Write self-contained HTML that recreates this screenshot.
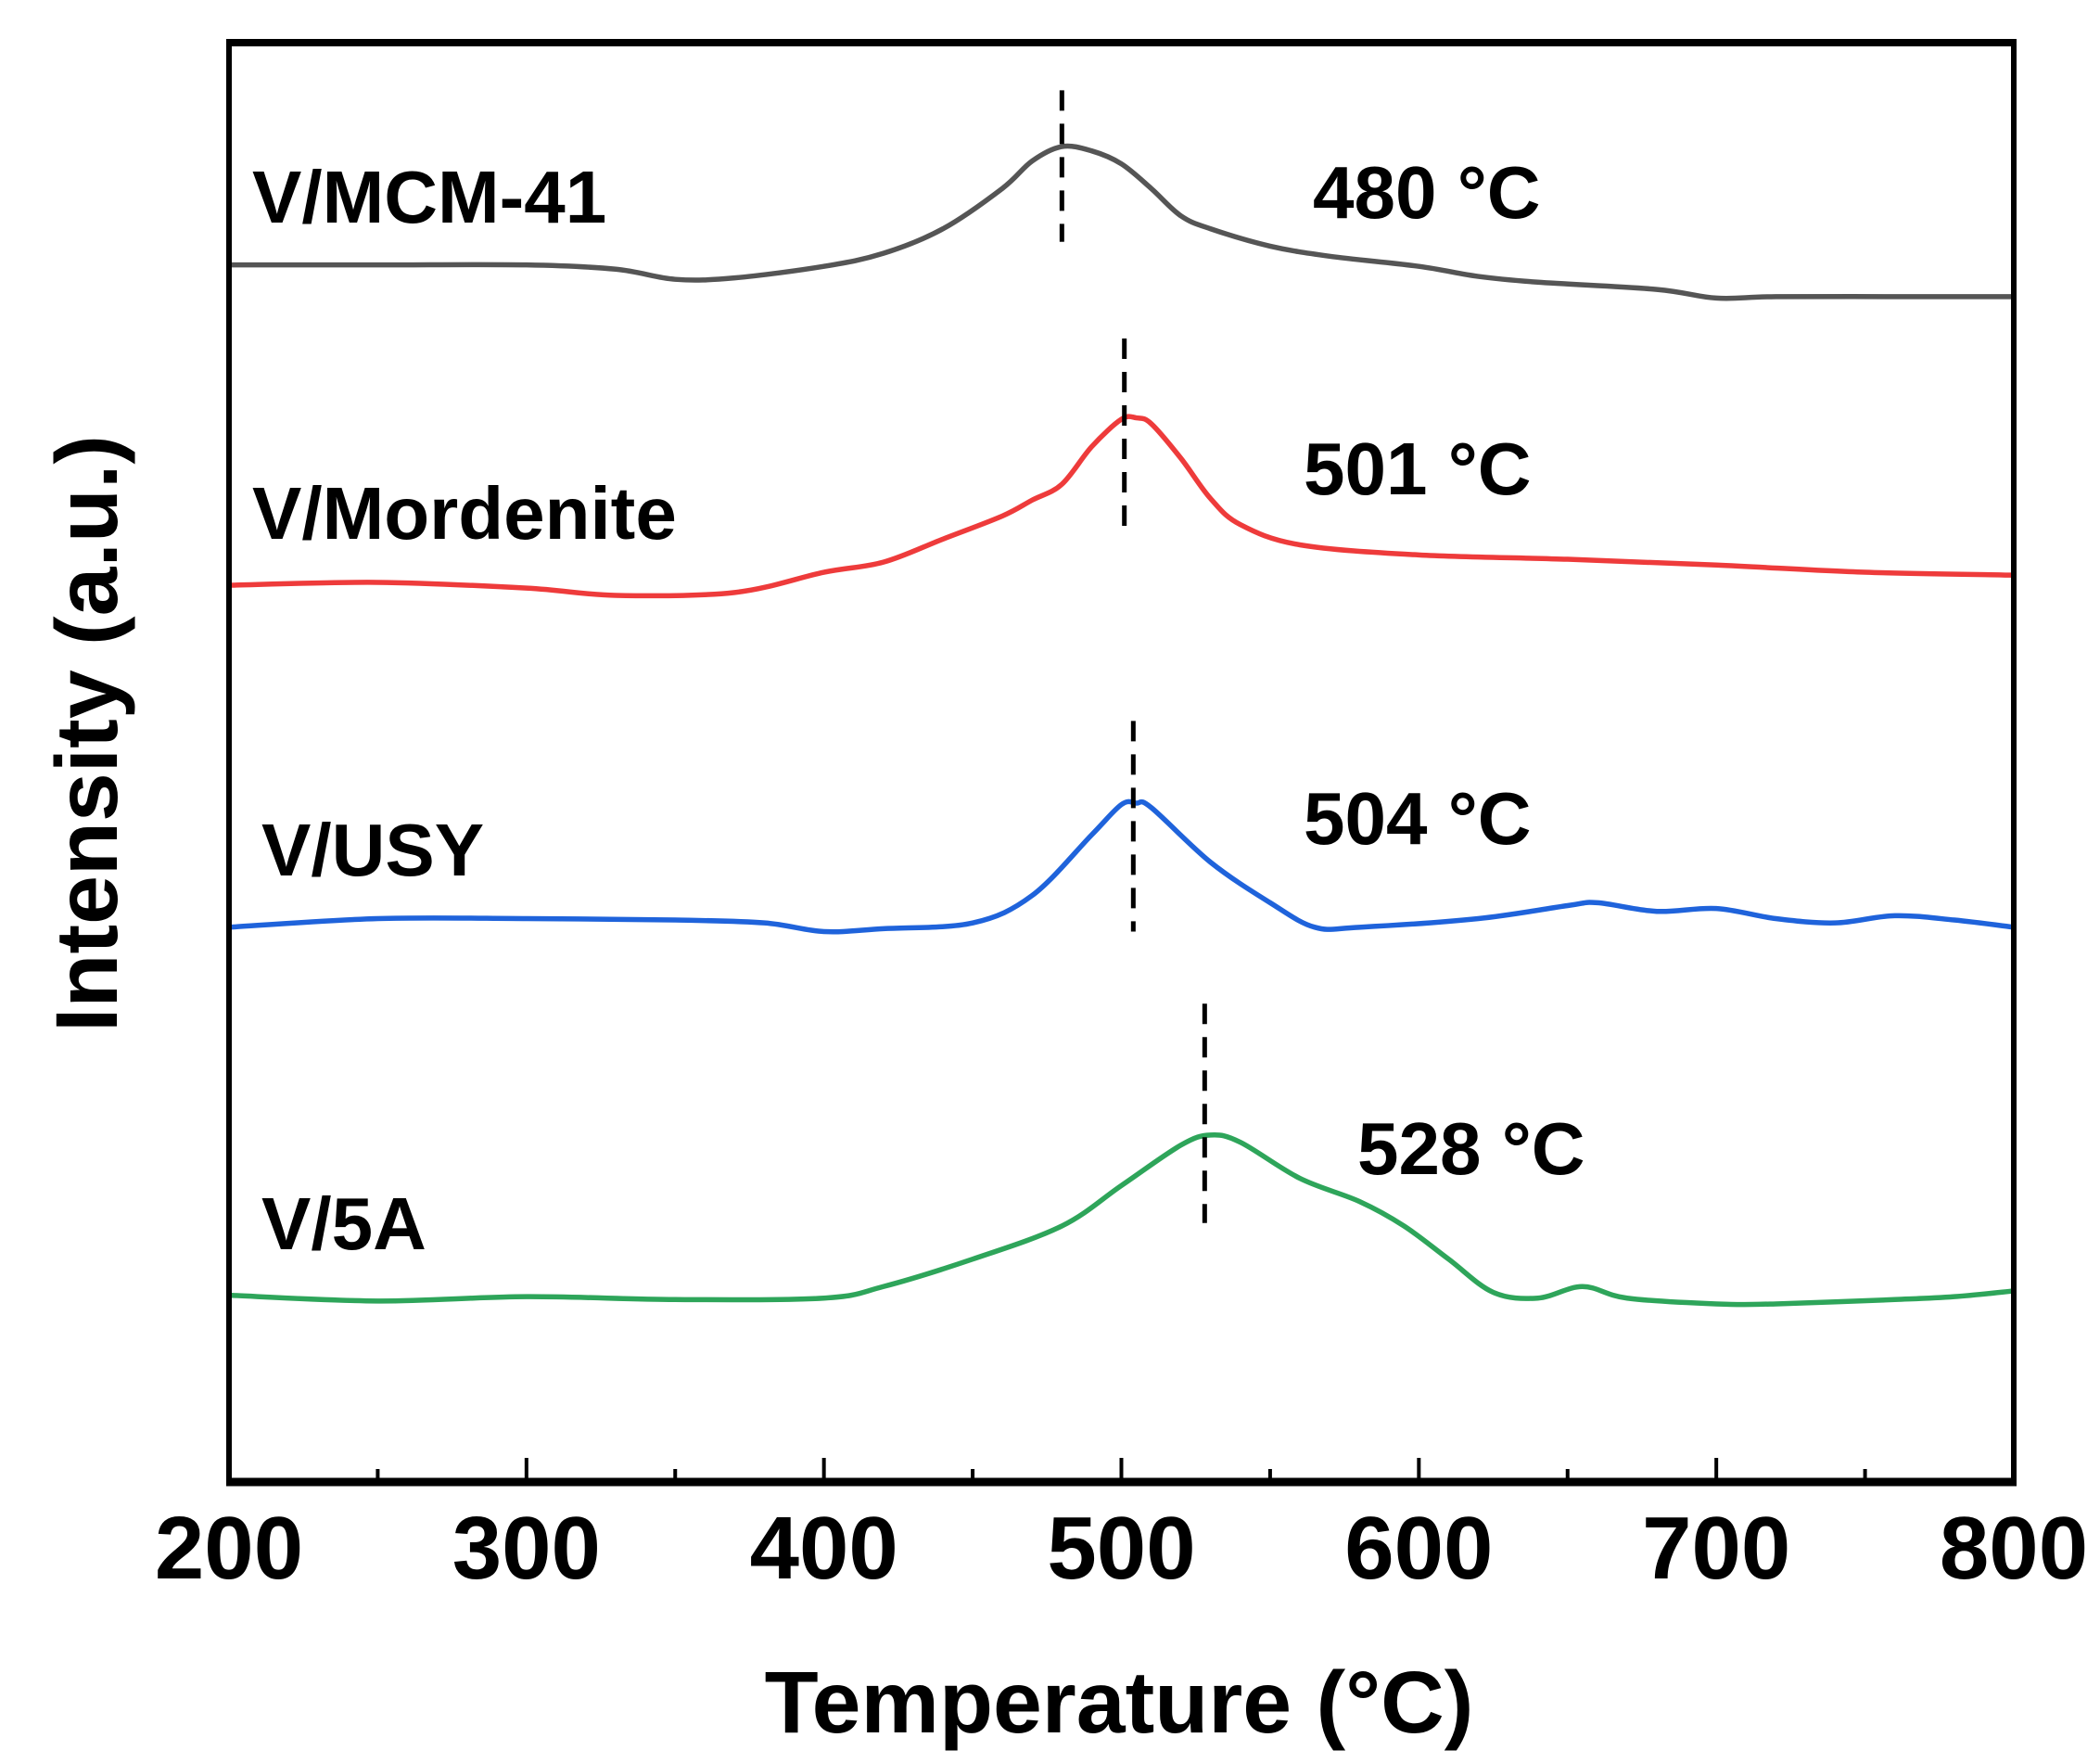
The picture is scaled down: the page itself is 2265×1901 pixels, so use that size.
<!DOCTYPE html>
<html><head><meta charset="utf-8">
<style>
html,body{margin:0;padding:0;background:#fff;}
svg{display:block;}
text{font-family:"Liberation Sans",Arial,sans-serif;font-weight:bold;fill:#000;}
</style></head>
<body>
<svg id="chart" width="2265" height="1901" viewBox="0 0 2265 1901" xmlns="http://www.w3.org/2000/svg">
<rect x="0" y="0" width="2265" height="1901" fill="#fff"/>
<g id="plot"></g>
<rect x="247" y="46" width="1925" height="1552" fill="none" stroke="#000" stroke-width="6"/>
<line x1="244" y1="1598" x2="2175" y2="1598" stroke="#000" stroke-width="9"/>
<line x1="244" y1="46" x2="2175" y2="46" stroke="#000" stroke-width="8"/>
<g id="ticks"></g>
<text x="1207" y="1868" font-size="95" text-anchor="middle">Temperature (°C)</text>
<text transform="translate(126,791) rotate(-90)" font-size="95" text-anchor="middle">Intensity (a.u.)</text>
</svg>
<script>
const xTicks = [200,300,400,500,600,700,800];
const xMinor = [250,350,450,550,650,750];
const seriesNames = ["V/MCM-41","V/Mordenite","V/USY","V/5A"];
const seriesColors = ["#555555","#ee3b3b","#1f63db","#2ea55a"];
const peakLabels = ["480 °C","501 °C","504 °C","528 °C"];
const peakTemps = [480,501,504,528];
const peakLineTop = [96.7,79.5,53.0,33.4];
const peakLineBottom = [86.2,66.1,38.4,18.2];
const mcmX = [200,250,300,330,350,370,400,420,440,460,470,480,490,500,510,520,530,550,570,600,620,640,680,700,720,760,800];
const mcmY = [84.6,84.6,84.6,84.3,83.6,83.7,84.5,85.4,87.1,89.9,91.8,92.8,92.5,91.6,89.9,88.0,87.1,85.9,85.2,84.5,83.8,83.4,82.9,82.3,82.4,82.4,82.4];
const morX = [200,250,300,330,370,400,420,440,460,470,480,490,500,505,510,520,530,540,560,600,650,700,750,800];
const morY = [62.4,62.6,62.2,61.7,61.9,63.3,64.0,65.6,67.2,68.3,69.4,72.0,73.9,74.0,73.6,71.2,68.4,66.6,65.2,64.5,64.2,63.8,63.3,63.1];
const usyX = [200,250,300,350,380,400,420,450,470,490,500,505,510,530,550,565,580,620,650,660,680,700,720,740,760,780,800];
const usyY = [38.7,39.3,39.3,39.2,39.0,38.4,38.6,39.0,40.9,45.1,47.2,47.3,47.0,43.2,40.4,38.7,38.7,39.3,40.2,40.4,39.8,40.0,39.3,39.0,39.5,39.2,38.7];
const a5X = [200,250,300,350,400,420,450,480,500,520,530,540,560,580,595,610,625,640,655,670,700,720,760,780,800];
const a5Y = [13.2,12.8,13.1,12.9,13.0,13.8,15.7,18.0,20.8,23.6,24.3,23.8,21.3,19.7,18.0,15.7,13.4,13.0,13.8,13.0,12.6,12.6,12.9,13.1,13.5];
const labelPos = [[272,240,1416,235],[272,581,1406,533],[282,944,1406,910],[282,1347,1464,1266]];

const NS="http://www.w3.org/2000/svg";
const X0=247,X1=2172,Y0=1602,Y1=46;
function sx(v){return X0+(v-200)/600*(X1-X0);}
function sy(v){return Y0-(v/100)*(Y0-Y1);}
const plot=document.getElementById('plot');
const ticks=document.getElementById('ticks');
function mk(tag,attrs,parent){const e=document.createElementNS(NS,tag);for(const k in attrs)e.setAttribute(k,attrs[k]);parent.appendChild(e);return e;}
function smoothPath(xs,ys){
  const p=xs.map((x,i)=>[sx(x),sy(ys[i])]);
  let d="M"+p[0][0]+","+p[0][1];
  for(let i=0;i<p.length-1;i++){
    const p0=p[Math.max(0,i-1)],p1=p[i],p2=p[i+1],p3=p[Math.min(p.length-1,i+2)];
    const c1=[p1[0]+(p2[0]-p0[0])/6,p1[1]+(p2[1]-p0[1])/6];
    const c2=[p2[0]-(p3[0]-p1[0])/6,p2[1]-(p3[1]-p1[1])/6];
    d+=" C"+c1[0]+","+c1[1]+" "+c2[0]+","+c2[1]+" "+p2[0]+","+p2[1];
  }
  return d;
}
const allX=[mcmX,morX,usyX,a5X],allY=[mcmY,morY,usyY,a5Y];
const keys=["mcm-41","mordenite","usy","5a"];
for(let s=0;s<4;s++){
  const path=mk('path',{d:smoothPath(allX[s],allY[s]),fill:'none',stroke:seriesColors[s],'stroke-width':5.5,'stroke-linejoin':'round'},plot);
  
  
  const dl=mk('line',{x1:sx(peakTemps[s]),x2:sx(peakTemps[s]),y1:sy(peakLineTop[s]),y2:sy(peakLineBottom[s]),stroke:'#000','stroke-width':5,'stroke-dasharray':'22,14'},plot);
  
  
  const t1=mk('text',{x:labelPos[s][0],y:labelPos[s][1],'font-size':80},plot);
  t1.textContent=seriesNames[s];
  
  
  const t2=mk('text',{x:labelPos[s][2],y:labelPos[s][3],'font-size':80},plot);
  t2.textContent=peakLabels[s];
  
  
}
xTicks.forEach(v=>{
  const l=mk('line',{x1:sx(v),x2:sx(v),y1:1598,y2:1572,stroke:'#000','stroke-width':4},ticks);
  
  
  const t=mk('text',{x:sx(v),y:1702,'font-size':96,'text-anchor':'middle'},ticks);
  t.textContent=String(v);
  
  
});
xMinor.forEach(v=>{
  const l=mk('line',{x1:sx(v),x2:sx(v),y1:1598,y2:1584,stroke:'#000','stroke-width':4},ticks);
  
  
});
</script>
</body></html>
